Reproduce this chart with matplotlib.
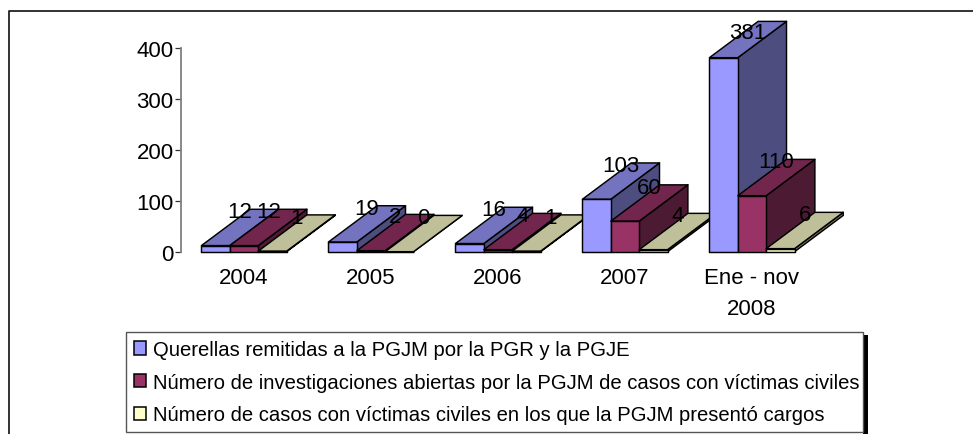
import matplotlib
matplotlib.use("Agg")
import matplotlib.pyplot as plt
from matplotlib.patches import Polygon, Patch, Rectangle
from matplotlib.lines import Line2D
from matplotlib.transforms import IdentityTransform
import numpy as np

categories = ["2004", "2005", "2006", "2007", "Ene - nov\n2008"]
querellas = [12, 19, 16, 103, 381]
investigaciones = [12, 2, 4, 60, 110]
cargos = [1, 0, 1, 4, 6]
series_names = [
    "Querellas remitidas a la PGJM por la PGR y la PGJE",
    "Número de investigaciones abiertas por la PGJM de casos con víctimas civiles",
    "Número de casos con víctimas civiles en los que la PGJM presentó cargos",
]
yticks = [0, 100, 200, 300, 400]

W, H = 973, 435
plt.rcParams["font.family"] = ["Liberation Sans"]
fig = plt.figure(figsize=(W / 100, H / 100), dpi=100, facecolor="white")


def fx(x):
    return x / W


def fy(y):
    return 1 - y / H


# axes placement in reference pixels
L, R, T, B = 180.5, 815.5, 49.0, 252.7
ax = fig.add_axes([fx(L), fy(B), (R - L) / W, (B - T) / H])
ax.set_xlim(-0.5, 4.5)
ax.set_ylim(0, 400)
ax.patch.set_alpha(0)
for s in ["top", "right", "bottom"]:
    ax.spines[s].set_visible(False)
ax.spines["left"].set_color("#808080")
ax.spines["left"].set_linewidth(1.3)
ax.set_yticks(yticks)
ax.tick_params(axis="y", length=4, width=0.9, color="#333333", pad=1, labelsize=16)
ax.set_xticks(range(len(categories)))
ax.set_xticklabels(categories, fontsize=16, linespacing=1.6, color="black", va="top")
ax.tick_params(axis="x", length=0, pad=11)
for lab in ax.get_yticklabels():
    lab.set_color("black")

colors = [(0x99 / 255, 0x99 / 255, 1.0), (0x99 / 255, 0x33 / 255, 0x66 / 255), (1.0, 1.0, 0xCC / 255)]
swatch_colors = colors
BAR_W = 0.2235
DX, DY = 48.7, 36.3  # depth of the 3D effect, px
identity = IdentityTransform()


def shade(c, f):
    return tuple(v * f for v in c)


def poly(pts, color, z):
    ax.add_patch(Polygon(pts, closed=True, facecolor=color, edgecolor="black",
                         linewidth=1.05, joinstyle="round", transform=identity,
                         clip_on=False, zorder=z))


values = [querellas, investigaciones, cargos]
z = 3
labels = []
for i in range(len(categories)):
    for k, vals in enumerate(values):
        x0 = i + (k - 1.5) * BAR_W
        x1 = x0 + BAR_W
        v = vals[i]
        (xa, y0), (xb, y1) = ax.transData.transform([(x0, 0), (x1, v)])
        c = colors[k]
        poly([(xb, y0), (xb + DX, y0 + DY), (xb + DX, y1 + DY), (xb, y1)], shade(c, 0.5), z)
        poly([(xa, y1), (xb, y1), (xb + DX, y1 + DY), (xa + DX, y1 + DY)], shade(c, 0.75), z + 0.1)
        poly([(xa, y0), (xb, y0), (xb, y1), (xa, y1)], c, z + 0.2)
        z += 1
        ly = min(y1 + DY, H - 31)
        labels.append(((xa + xb) / 2 + DX / 2, ly, str(v)))

for lx, ly, txt in labels:
    ax.text(lx, ly, txt, transform=identity, ha="center", va="center_baseline",
            fontsize=16, color="black", zorder=500, clip_on=False)

# outer chart frame (open to right and bottom edge of the crop)
fig.add_artist(Line2D([fx(9), fx(9), 1], [0, fy(11.5), fy(11.5)], color="#222222", linewidth=1.3))

# legend shadow
fig.add_artist(Rectangle((fx(863), 0), 5 / W, (H - 336) / H, facecolor="black", edgecolor="none",
                         transform=fig.transFigure, zorder=5))

handles = [Patch(facecolor=c, edgecolor="black", linewidth=1.1) for c in swatch_colors]
leg = fig.legend(
    handles, series_names, loc="upper left",
    bbox_to_anchor=(fx(126), fy(434), (863 - 126) / W, (434 - 333) / H),
    mode="expand", ncol=1, fontsize=14.6, frameon=True, fancybox=False,
    edgecolor="#555555", facecolor="white", framealpha=1,
    handlelength=0.6, handleheight=0.62, handletextpad=0.33,
    labelspacing=0.67, borderpad=0.4, borderaxespad=0,
)
leg.get_frame().set_linewidth(1.0)
leg.set_zorder(10)

fig.savefig("out.png", dpi=100, facecolor="white")
